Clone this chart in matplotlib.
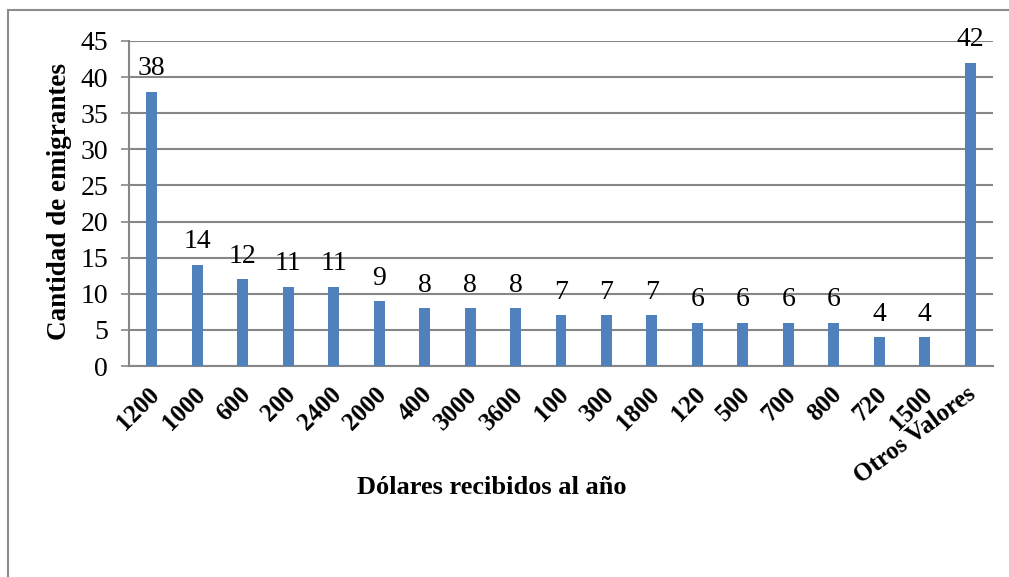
import matplotlib
matplotlib.use('Agg')
import matplotlib.pyplot as plt
import matplotlib.transforms as mtransforms
from matplotlib.patches import Rectangle

categorias = ['1200', '1000', '600', '200', '2400', '2000', '400', '3000', '3600',
              '100', '300', '1800', '120', '500', '700', '800', '720', '1500',
              'Otros Valores']
emigrantes = [38, 14, 12, 11, 11, 9, 8, 8, 8, 7, 7, 7, 6, 6, 6, 6, 4, 4, 42]
yticks = [0, 5, 10, 15, 20, 25, 30, 35, 40, 45]

plt.rcParams['font.family'] = ['Liberation Serif', 'DejaVu Serif']

fig = plt.figure(figsize=(10.09, 5.77), dpi=100)
ax = fig.add_axes([129/1009, 1 - 366/577, (993 - 129)/1009, (366 - 41)/577])

grid_col = '#868686'
x = range(len(categorias))
bars = ax.bar(x, emigrantes, width=0.24, color='#4F81BD', zorder=3)
for xi, v in zip(x, emigrantes):
    ax.annotate(str(v), (xi, v), xytext=(0, 7.5), textcoords='offset points',
                ha='center', va='bottom', fontsize=20)

ax.set_xlim(-0.5, len(categorias) - 0.5)
ax.set_ylim(0, 45)
ax.set_yticks(yticks)
ax.yaxis.grid(True, color=grid_col, linewidth=1.5, zorder=0)
ax.tick_params(axis='y', labelsize=20, length=6, width=1.2, color=grid_col, pad=9)
ax.tick_params(axis='x', length=0, pad=12)
ax.set_xticks(list(x))
ax.set_xticklabels(categorias, rotation=45, ha='right', rotation_mode='anchor',
                   fontsize=18, fontweight='bold')
shift = mtransforms.ScaledTranslation(-4/100, 0, fig.dpi_scale_trans)
for lbl in ax.get_xticklabels():
    lbl.set_transform(lbl.get_transform() + shift)
ax.get_xticklabels()[-1].set_rotation(37)

for s in ['top', 'right']:
    ax.spines[s].set_visible(False)
ax.spines['left'].set_color(grid_col)
ax.spines['left'].set_linewidth(1.5)
ax.spines['bottom'].set_color(grid_col)
ax.spines['bottom'].set_linewidth(1.5)

fig.text(60/1009, 1 - 202/577, 'Cantidad de emigrantes', rotation=90,
         ha='center', va='center', fontsize=19.5, fontweight='bold')
fig.text(492/1009, 1 - 487/577, 'Dólares recibidos al año',
         ha='center', va='center', fontsize=19, fontweight='bold')

fig.patches.append(Rectangle((8/1009, -0.2), 1.2, 1.2 - 10/577,
                             transform=fig.transFigure, fill=False,
                             edgecolor='#8c8c8c', linewidth=1.5))

fig.savefig('out.png', dpi=100)
